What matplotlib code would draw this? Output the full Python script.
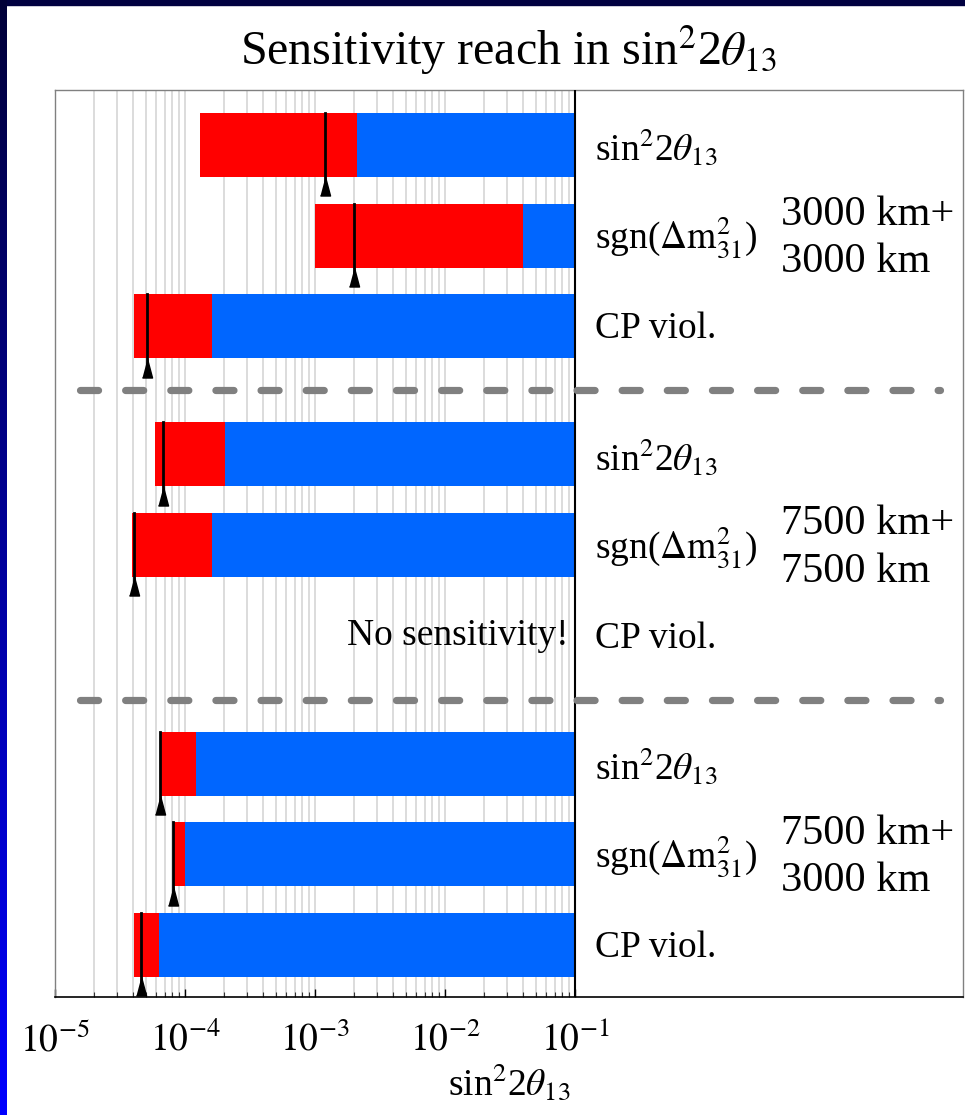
import numpy as np
import matplotlib
matplotlib.use("Agg")
import matplotlib.pyplot as plt
from matplotlib.patches import Rectangle

# ------------------------------------------------------------
# Data (rows top to bottom, three rows per baseline setup)
# ------------------------------------------------------------
row_labels = [r"sin$^2$2$\theta_{13}$", r"sgn($\Delta\mathrm{m}^2_{31}$)", "CP viol."] * 3
red_start = [1.30e-4, 1.0e-3, 4.05e-5,
             5.9e-5, 3.9e-5, np.nan,
             6.5e-5, 8.1e-5, 4.05e-5]
blue_start = [2.1e-3, 0.040, 1.6e-4,
              2.03e-4, 1.6e-4, np.nan,
              1.22e-4, 1.0e-4, 6.3e-5]
blue_end = [0.1, 0.1, 0.1,
            0.1, 0.1, np.nan,
            0.1, 0.1, 0.1]
marker_val = [1.19e-3, 2.0e-3, 5.1e-5,
              6.8e-5, 4.05e-5, np.nan,
              6.4e-5, 8.1e-5, 4.6e-5]
setup_top = ["3000 km+", "7500 km+", "7500 km+"]
setup_bottom = ["3000 km", "7500 km", "3000 km"]
no_sens_text = "No sensitivity!"
major_ticks = [1e-5, 1e-4, 1e-3, 1e-2, 1e-1]
tick_labels = [r"$10^{-5}$", r"$10^{-4}$", r"$10^{-3}$", r"$10^{-2}$", r"$10^{-1}$"]

RED = "#ff0000"
BLUE = "#0066ff"
GRAY = "#808080"

plt.rcParams["font.family"] = "serif"
plt.rcParams["font.serif"] = ["Liberation Serif", "DejaVu Serif"]
plt.rcParams["mathtext.fontset"] = "stix"


def main():
    W, H = 965, 1115
    fig = plt.figure(figsize=(W / 100, H / 100), dpi=100)
    fig.patch.set_facecolor("white")

    # slide border: navy top band, gradient on the left
    fig.add_artist(Rectangle((0, 1 - 5 / H), 1, 5 / H, transform=fig.transFigure,
                             color="#000040", zorder=0))
    bax = fig.add_axes([0, 0, 7 / W, 1])
    grad = np.linspace(0.22, 1.0, 256)
    img = np.zeros((256, 1, 3))
    img[:, 0, 2] = grad
    bax.imshow(img, aspect="auto", extent=[0, 1, 0, 1], origin="upper")
    bax.axis("off")

    ax = fig.add_axes([55 / W, 1 - 997 / H, 908 / W, 907 / H])

    n = len(row_labels)
    ypos = np.array([(i // 3) * 3.415 + (i % 3) for i in range(n)])
    bar_h = 0.706

    # grid lines only inside 1e-5 .. 1e-1
    minors = [m * 10.0**e for e in range(-5, -1) for m in range(2, 10)]
    for v in minors + major_ticks[:-1]:
        ax.axvline(v, color="#d6d6d6", lw=1.2, zorder=0)

    red_w = np.array(blue_start) - np.array(red_start)
    blue_w = np.array(blue_end) - np.array(blue_start)
    ax.barh(ypos, red_w, left=red_start, height=bar_h, color=RED, zorder=2)
    ax.barh(ypos, blue_w, left=blue_start, height=bar_h, color=BLUE, zorder=2)

    # best-fit markers: line through bar + triangle below
    tri = [(-0.53, -1.0), (0.53, -1.0), (0.0, 1.0)]
    for y, m in zip(ypos, marker_val):
        if np.isnan(m):
            continue
        ax.plot([m, m], [y - bar_h / 2, y + bar_h / 2 + 0.1], color="black",
                lw=2.0, zorder=3)
        ax.plot([m], [y + bar_h / 2 + 0.105], marker=tri, markersize=13.7,
                color="black", linestyle="none", zorder=4)

    ax.axvline(0.1, color="black", lw=1.5, zorder=3)

    # separators between setups
    ytr = ax.get_yaxis_transform()
    for g in (1, 2):
        ysep = (ypos[3 * g - 1] + ypos[3 * g]) / 2
        ax.plot([0.0275, 0.975], [ysep, ysep], transform=ytr, color=GRAY, lw=5.2,
                dashes=(2.5, 3.75), solid_capstyle="round", dash_capstyle="round",
                zorder=3)

    # labels on the right
    for y, lab in zip(ypos, row_labels):
        ax.text(0.595, y + 0.03, lab, transform=ytr, fontsize=27, va="center",
                ha="left")
    for g in range(3):
        ymid = ypos[3 * g + 1]
        ax.text(0.80, ymid - 0.23, setup_top[g], transform=ytr, fontsize=30.5,
                va="center", ha="left")
        ax.text(0.80, ymid + 0.29, setup_bottom[g], transform=ytr, fontsize=30.5,
                va="center", ha="left")
    ax.text(0.565, ypos[5], no_sens_text, transform=ytr, fontsize=27, va="center",
            ha="right")

    ax.set_xscale("log")
    ax.set_xlim(1e-5, 10**(-5 + 908 / 130))
    ax.set_ylim((997 - 145) / 90.6, (90 - 145) / 90.6)
    ax.set_yticks([])
    ax.set_xticks(major_ticks)
    ax.set_xticklabels(tick_labels, fontsize=27)
    ax.set_xticks(minors, minor=True)
    ax.tick_params(axis="x", which="major", direction="in", length=6, width=1,
                   pad=18, color="black")
    ax.tick_params(axis="x", which="minor", direction="in", length=3.5, width=0.8,
                   color="#333333", labelbottom=False)
    ax.set_xlabel(r"sin$^2$2$\theta_{13}$", fontsize=27, labelpad=2)

    for side in ("left", "top", "right"):
        ax.spines[side].set_color(GRAY)
        ax.spines[side].set_linewidth(1.0)
    ax.spines["bottom"].set_color("black")
    ax.spines["bottom"].set_linewidth(1.2)

    fig.text((55 + 908 / 2) / W, 1 - 50 / H, r"Sensitivity reach in sin$^2$2$\theta_{13}$",
             fontsize=34.5, ha="center", va="center")

    fig.savefig("out.png", dpi=100)
    plt.close(fig)


if __name__ == "__main__":
    main()
